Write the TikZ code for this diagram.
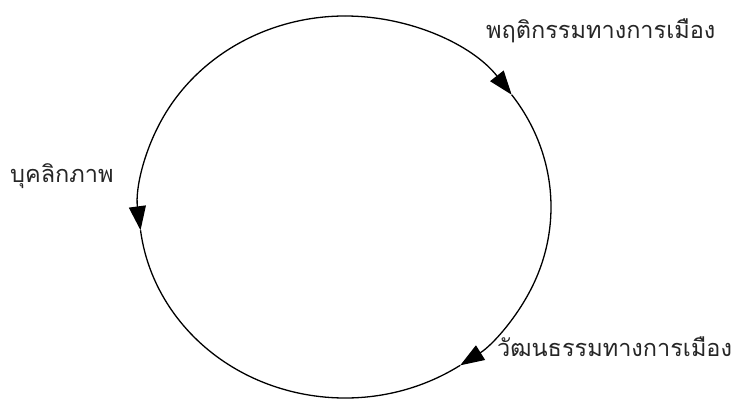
\documentclass[tikz,border=0pt]{standalone}
\usepackage{fontspec}
\newfontfamily\thaifont[Script=Thai]{Loma}
\usetikzlibrary{arrows.meta}
\begin{document}
\begin{tikzpicture}[x=1pt,y=1pt,
  ring/.style={line width=1.3pt, black},
  arr/.style={ring, -{Triangle[length=24pt,width=17pt]}},
  lbl/.style={font=\thaifont\fontsize{23.5}{27}\selectfont, inner sep=0pt, anchor=base west, text=black!85}]
\useasboundingbox (0,0) rectangle (732,399);
\def\cx{345}\def\cy{192}\def\rx{206}\def\ry{191}
\coordinate (c) at (\cx,\cy);
\draw[arr] ([shift={(90:{\rx} and {\ry})}]c) arc[start angle=90, end angle=36, x radius=\rx, y radius=\ry];
\draw[arr] ([shift={(36:{\rx} and {\ry})}]c) arc[start angle=36, end angle=-56, x radius=\rx, y radius=\ry];
\draw[ring] ([shift={(-56:{\rx} and {\ry})}]c) arc[start angle=-56, end angle=-173, x radius=\rx, y radius=\ry];
\draw[arr] ([shift={(90:{\rx} and {\ry})}]c) arc[start angle=90, end angle=187, x radius=\rx, y radius=\ry];
\node[lbl] (behav) at (486,360) {พฤติกรรมทางการเมือง};
\node[lbl] (pers) at (10,216) {บุคลิกภาพ};
\node[lbl] (cult) at (497,42) {วัฒนธรรมทางการเมือง};
\end{tikzpicture}
\end{document}
